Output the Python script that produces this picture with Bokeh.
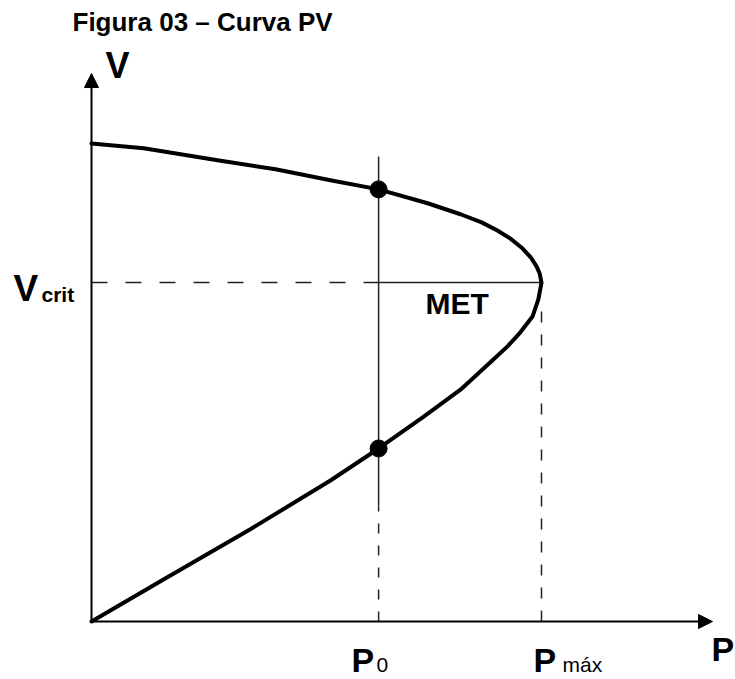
from bokeh.plotting import figure
from bokeh.models import Range1d, Arrow, NormalHead
from bokeh.core.properties import value
from bokeh.embed import file_html
from bokeh.resources import INLINE

# ---- data (P in p.u. of Pmax, V in p.u. of no-load voltage) ----
p_upper = [0.0, 0.116, 0.287, 0.409, 0.531, 0.638, 0.747, 0.820, 0.867, 0.902, 0.931, 0.956, 0.976, 0.989, 0.996, 1.0]
v_upper = [1.000, 0.990, 0.964, 0.946, 0.923, 0.904, 0.875, 0.852, 0.835, 0.818, 0.801, 0.782, 0.762, 0.743, 0.728, 0.709]
p_lower = [1.0, 0.993, 0.980, 0.953, 0.924, 0.893, 0.820, 0.736, 0.638, 0.531, 0.353, 0.160, 0.0]
v_lower = [0.709, 0.674, 0.638, 0.605, 0.575, 0.548, 0.485, 0.427, 0.362, 0.295, 0.193, 0.088, 0.0]

P0 = 0.638
PMAX = 1.0
VCRIT = 0.709
V_OP = [0.904, 0.362]          # operating points at P0
P0_LINE = [0.2427, 0.9728]     # extent of solid P0 line
PMAX_LINE_TOP = 0.657
AX_P_TIP = 1.38
AX_V_TIP = 1.1464

title_text = "Figura 03 \u2013 Curva PV"

# pixel scale helpers (P: 450 px per unit, V: 478 px per unit)
SX, SY = 450.0, 478.0
FONT = value("Liberation Sans")

p = figure(width=735, height=679,
           x_range=Range1d(-91 / SX, 644 / SX),
           y_range=Range1d(-58 / SY, 621 / SY),
           output_backend="svg", toolbar_location=None,
           x_axis_type=None, y_axis_type=None,
           min_border=0, outline_line_color=None)
p.grid.visible = False
p.background_fill_color = "white"
p.border_fill_color = "white"

# axes with arrows
p.add_layout(Arrow(x_start=0, y_start=0, x_end=0, y_end=AX_V_TIP, line_width=2, line_color="black",
                   end=NormalHead(size=14, fill_color="black", line_color="black")))
p.add_layout(Arrow(x_start=0, y_start=0, x_end=AX_P_TIP, y_end=0, line_width=2, line_color="black",
                   end=NormalHead(size=14, fill_color="black", line_color="black")))

# reference lines
p.line([P0, P0], P0_LINE, line_width=1.5, line_color="#222222")
p.line([P0, P0], [0, P0_LINE[0]], line_width=1.5, line_color="#222222", line_dash="10 12")
p.line([PMAX, PMAX], [0, PMAX_LINE_TOP], line_width=1.5, line_color="#222222", line_dash="11 12")
p.line([0, P0], [VCRIT, VCRIT], line_width=1.5, line_color="#222222", line_dash="16 18")
p.line([P0, PMAX], [VCRIT, VCRIT], line_width=1.5, line_color="#222222")

# PV curve
p.line(p_upper + p_lower[1:], v_upper + v_lower[1:], line_width=4, line_color="black",
       line_join="round", line_cap="round")

# operating points
p.scatter([P0, P0], V_OP, size=17, marker="circle", fill_color="black", line_color="black")

def txt(x, y, s, size, bold=True):
    # y is the intended baseline; compensate for the renderer's baseline shift
    p.text(x=[x], y=[y + 0.41 * size / SY], text=[s], text_font=FONT, text_font_size=f"{size}px",
           text_font_style="bold" if bold else "normal", text_color="black",
           text_align="left", text_baseline="alphabetic")

txt(-19 / SX, 589 / SY, title_text, 26)
txt(14 / SX, 541 / SY, "V", 36)
txt(-78 / SX, VCRIT - 21 / SY, "V", 37)
txt(-50 / SX, VCRIT - 21 / SY, "crit", 21)
txt(P0 + 47 / SX, VCRIT - 33 / SY, "MET", 30)
txt(P0 - 27 / SX, -52 / SY, "P", 34)
txt(P0 - 2 / SX, -52 / SY, "0", 21, bold=False)
txt(PMAX - 8 / SX, -52 / SY, "P", 34)
txt(PMAX + 21 / SX, -52 / SY, "m\u00e1x", 21, bold=False)
txt(620 / SX, -41 / SY, "P", 34)

open("out.html", "w").write(file_html(p, INLINE))
